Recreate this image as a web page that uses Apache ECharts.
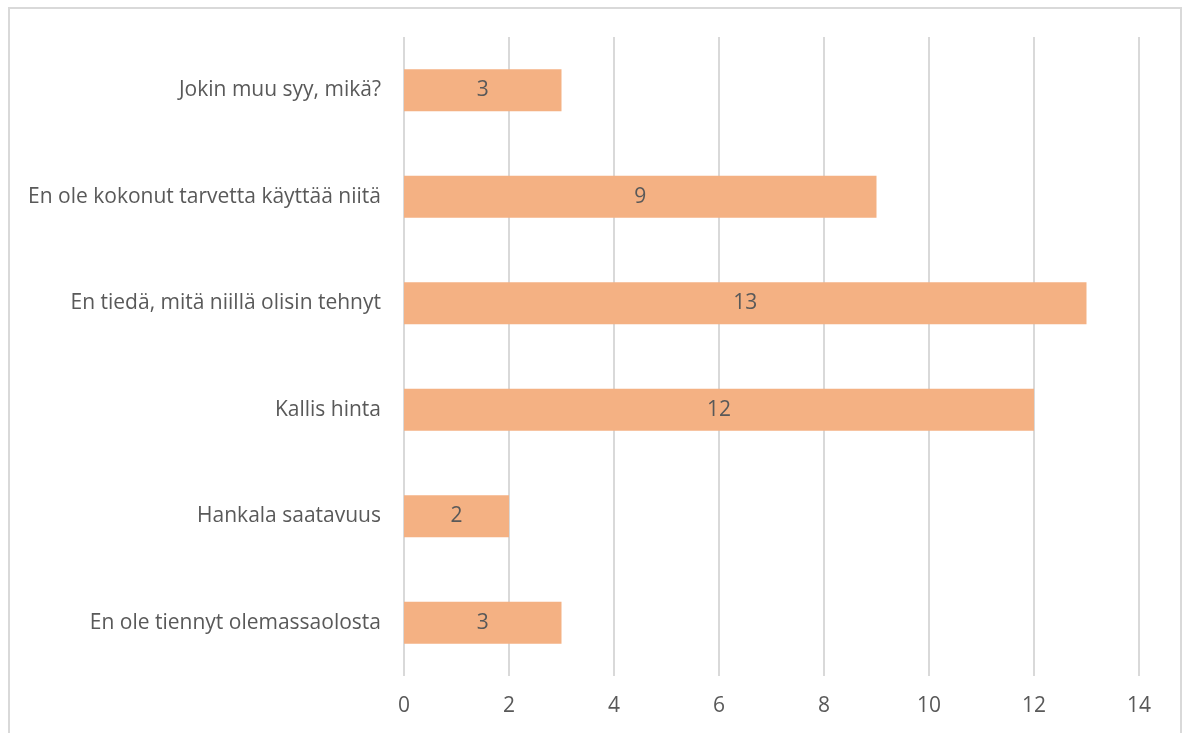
<!DOCTYPE html>
<html>
<head>
<meta charset="utf-8">
<script src="https://cdn.jsdelivr.net/npm/echarts@6/dist/echarts.min.js"></script>
<style>
  html, body { margin: 0; padding: 0; background: #fff; }
  #frame { position: absolute; left: 8px; top: 7px; width: 1174px; height: 740px; border: 2px solid #d9d9d9; box-sizing: border-box; }
  #chart { position: absolute; left: 0; top: 0; width: 1186px; height: 733px; }
</style>
</head>
<body>
<div id="frame"></div>
<div id="chart"></div>
<script>
// Reasons listed bottom-to-top as ECharts draws category axes upward
const categories = [
  'En ole tiennyt olemassaolosta',
  'Hankala saatavuus',
  'Kallis hinta',
  'En tiedä, mitä niillä olisin tehnyt',
  'En ole kokonut tarvetta käyttää niitä',
  'Jokin muu syy, mikä?'
];
const counts = [3, 2, 12, 13, 9, 3];
const xTicks = [0, 2, 4, 6, 8, 10, 12, 14];

const textColor = '#595959';
const fontFamily = '"Open Sans", "Liberation Sans", sans-serif';

const chart = echarts.init(document.getElementById('chart'), null, { renderer: 'canvas' });
chart.setOption({
  animation: false,
  backgroundColor: 'transparent',
  grid: { left: 404, right: 47, top: 37, bottom: 57, containLabel: false },
  xAxis: {
    type: 'value',
    min: xTicks[0],
    max: xTicks[xTicks.length - 1],
    interval: 2,
    axisLine: { show: false },
    axisTick: { show: false },
    splitLine: { show: true, lineStyle: { color: '#d9d9d9', width: 2 } },
    axisLabel: { color: textColor, fontSize: 21, fontFamily: fontFamily, margin: 20 }
  },
  yAxis: {
    type: 'category',
    data: categories,
    axisLine: { show: false },
    axisTick: { show: false },
    axisLabel: { color: textColor, fontSize: 21, fontFamily: fontFamily, margin: 23 }
  },
  series: [{
    type: 'bar',
    data: counts,
    barWidth: 42,
    itemStyle: { color: '#F4B183' },
    label: {
      show: true,
      position: 'inside',
      color: textColor,
      fontSize: 21,
      fontFamily: fontFamily
    }
  }]
});
</script>
</body>
</html>
